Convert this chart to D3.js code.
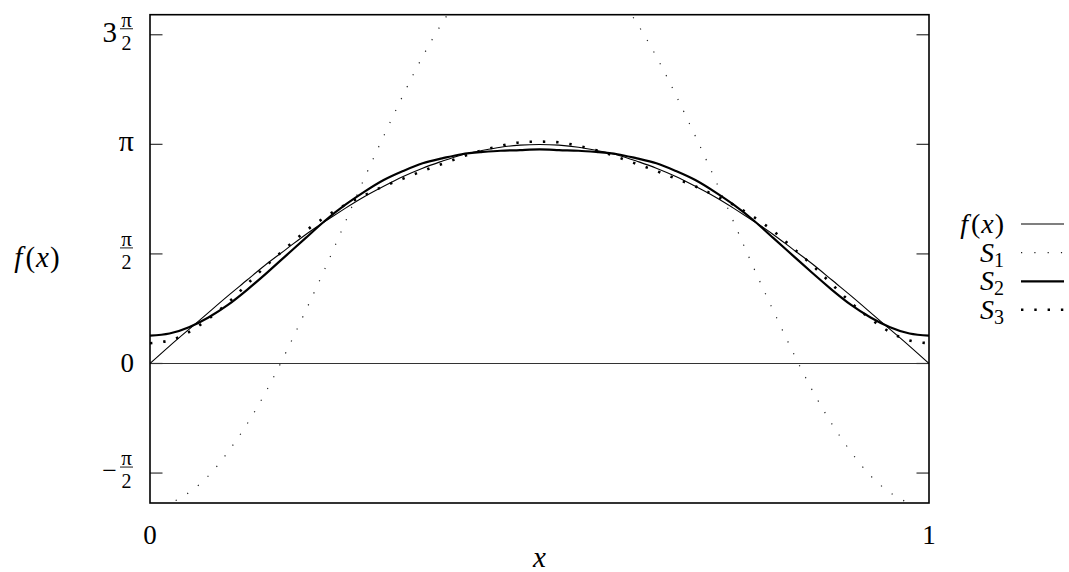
<!DOCTYPE html>
<meta charset="utf-8">
<script src="https://d3js.org/d3.v7.min.js"></script>
<style>
  body { margin: 0; background: #fff; }
</style>
<div id="my_dataviz"></div>
<script>

var xs = [0, 0.025, 0.05, 0.075, 0.1, 0.125, 0.15, 0.175, 0.2, 0.225, 0.25,
          0.275, 0.3, 0.325, 0.35, 0.375, 0.4, 0.425, 0.45, 0.475, 0.5,
          0.525, 0.55, 0.575, 0.6, 0.625, 0.65, 0.675, 0.7, 0.725, 0.75,
          0.775, 0.8, 0.825, 0.85, 0.875, 0.9, 0.925, 0.95, 0.975, 1];

// f(x), thin solid
var fVals = [0, 0.25, 0.49, 0.73, 0.97, 1.20, 1.43, 1.64, 1.85, 2.04, 2.22,
             2.39, 2.54, 2.68, 2.80, 2.90, 2.99, 3.05, 3.10, 3.13, 3.14,
             3.13, 3.10, 3.05, 2.99, 2.90, 2.80, 2.68, 2.54, 2.39, 2.22,
             2.04, 1.85, 1.64, 1.43, 1.20, 0.97, 0.73, 0.49, 0.25, 0];

// S1, sparse fine dots
var s1Vals = [-2.05, -2.00, -1.85, -1.61, -1.27, -0.86, -0.38, 0.17, 0.76, 1.37, 2.01,
              2.65, 3.26, 3.85, 4.40, 4.88, 5.29, 5.63, 5.87, 6.02, 6.07,
              6.02, 5.87, 5.63, 5.29, 4.88, 4.40, 3.85, 3.26, 2.65, 2.01,
              1.37, 0.76, 0.17, -0.38, -0.86, -1.27, -1.61, -1.85, -2.00, -2.05];

// S2, thick solid
var s2Vals = [0.40, 0.43, 0.52, 0.66, 0.84, 1.06, 1.30, 1.55, 1.80, 2.05, 2.27,
              2.46, 2.63, 2.76, 2.87, 2.94, 3.00, 3.03, 3.05, 3.06, 3.07,
              3.06, 3.05, 3.03, 3.00, 2.94, 2.87, 2.76, 2.63, 2.46, 2.27,
              2.05, 1.80, 1.55, 1.30, 1.06, 0.84, 0.66, 0.52, 0.43, 0.40];

// S3, heavy dots
var s3Vals = [0.29, 0.33, 0.45, 0.64, 0.87, 1.14, 1.41, 1.66, 1.90, 2.10, 2.27,
              2.41, 2.54, 2.65, 2.76, 2.86, 2.96, 3.05, 3.12, 3.17, 3.18,
              3.17, 3.12, 3.05, 2.96, 2.86, 2.76, 2.65, 2.54, 2.41, 2.27,
              2.10, 1.90, 1.66, 1.41, 1.14, 0.87, 0.64, 0.45, 0.33, 0.29];

var yTickVals = [-Math.PI / 2, 0, Math.PI / 2, Math.PI, 3 * Math.PI / 2];
var yTickLabels = ["−π/2", "0", "π/2", "π", "3π/2"];
var xTickVals = [0, 1];
var xTickLabels = ["0", "1"];

var seriesNames = ["f(x)", "S1", "S2", "S3"];

var W = 1069, H = 572;
var pLeft = 150, pRight = 929, pTop = 14.7, pBottom = 503;

var svg = d3.select("#my_dataviz")
  .append("svg")
    .attr("width", W)
    .attr("height", H)
    .attr("font-family", "'Liberation Serif', 'Times New Roman', Times, 'DejaVu Serif', serif");

svg.append("rect").attr("width", W).attr("height", H).attr("fill", "#fff");

var x = d3.scaleLinear().domain([0, 1]).range([pLeft, pRight]);
var y = d3.scaleLinear().domain([-2, 5]).range([pBottom, pTop]);

svg.append("clipPath").attr("id", "clip")
  .append("rect")
    .attr("x", pLeft).attr("y", pTop)
    .attr("width", pRight - pLeft).attr("height", pBottom - pTop);

// zero line
svg.append("line")
  .attr("x1", x(0)).attr("x2", x(1))
  .attr("y1", y(0)).attr("y2", y(0))
  .attr("stroke", "#333").attr("stroke-width", 1.2);

// ticks on left and right, inward
var tickLen = 12.5;
yTickVals.forEach(function(v) {
  svg.append("line")
    .attr("x1", pLeft).attr("x2", pLeft + tickLen)
    .attr("y1", y(v)).attr("y2", y(v))
    .attr("stroke", "#333").attr("stroke-width", 1.2);
  svg.append("line")
    .attr("x1", pRight - tickLen).attr("x2", pRight)
    .attr("y1", y(v)).attr("y2", y(v))
    .attr("stroke", "#333").attr("stroke-width", 1.2);
});

// curves
function series(vals) {
  return xs.map(function(d, i) { return [d, vals[i]]; });
}
var line = d3.line()
  .x(function(d) { return x(d[0]); })
  .y(function(d) { return y(d[1]); })
  .curve(d3.curveNatural);

var g = svg.append("g").attr("clip-path", "url(#clip)");

var styles = [
  {vals: fVals,  width: 1.1, dash: null,       color: "#000"},
  {vals: s1Vals, width: 1.2, dash: "1.2 12.1", color: "#222"},
  {vals: s2Vals, width: 2.2, dash: null,       color: "#000"},
  {vals: s3Vals, width: 2.6, dash: "2.4 10.9", color: "#000"}
];

styles.forEach(function(s) {
  g.append("path")
    .datum(series(s.vals))
    .attr("fill", "none")
    .attr("stroke", s.color)
    .attr("stroke-width", s.width)
    .attr("stroke-dasharray", s.dash)
    .attr("d", line);
});

// frame
svg.append("rect")
  .attr("x", pLeft).attr("y", pTop)
  .attr("width", pRight - pLeft).attr("height", pBottom - pTop)
  .attr("fill", "none").attr("stroke", "#000").attr("stroke-width", 1.6);

// y tick labels, fractions stacked
yTickLabels.forEach(function(lab, i) {
  var ty = y(yTickVals[i]);
  var slash = lab.indexOf("/");
  if (slash < 0) {
    svg.append("text")
      .attr("x", 134).attr("y", ty + (lab == "0" ? 9 : 6.5))
      .attr("text-anchor", "end")
      .attr("font-size", lab == "π" ? 30 : 27)
      .text(lab);
    return;
  }
  var pre = lab.slice(0, slash - 1), num = lab.slice(slash - 1, slash), den = lab.slice(slash + 1);
  var cx = 126.5;
  svg.append("text")
    .attr("x", cx).attr("y", ty - 8)
    .attr("text-anchor", "middle").attr("font-size", 21)
    .text(num);
  svg.append("line")
    .attr("x1", cx - 6.5).attr("x2", cx + 6.5)
    .attr("y1", ty - 6).attr("y2", ty - 6)
    .attr("stroke", "#000").attr("stroke-width", 0.9);
  svg.append("text")
    .attr("x", cx).attr("y", ty + 15)
    .attr("text-anchor", "middle").attr("font-size", 20)
    .text(den);
  if (pre) {
    svg.append("text")
      .attr("x", 117).attr("y", ty + (pre == "3" ? 7 : 6))
      .attr("text-anchor", "end").attr("font-size", pre == "3" ? 29 : 26)
      .text(pre);
  }
});

// x tick labels
xTickLabels.forEach(function(lab, i) {
  svg.append("text")
    .attr("x", x(xTickVals[i])).attr("y", 544)
    .attr("text-anchor", "middle").attr("font-size", 27)
    .text(lab);
});

// axis titles
svg.append("text")
  .attr("x", x(0.5)).attr("y", 567)
  .attr("text-anchor", "middle").attr("font-size", 29)
  .attr("font-style", "italic")
  .text("x");

function fx(t) {
  t.append("tspan").attr("font-style", "italic").text("f");
  t.append("tspan").attr("dx", 3).text("(");
  t.append("tspan").attr("font-style", "italic").attr("dx", 1).text("x");
  t.append("tspan").attr("dx", 1).text(")");
}

var yt = svg.append("text")
  .attr("x", 37).attr("y", 267)
  .attr("text-anchor", "middle").attr("font-size", 29);
fx(yt);

// legend
var legY = [224, 252.7, 281.3, 309.8];
seriesNames.forEach(function(name, i) {
  var t = svg.append("text")
    .attr("x", 1004).attr("y", legY[i] + 9)
    .attr("text-anchor", "end").attr("font-size", 28);
  if (name == "f(x)") {
    fx(t);
  } else {
    t.append("tspan").attr("font-style", "italic").text(name[0]);
    t.append("tspan").attr("font-size", 20).attr("dy", 5).text(name.slice(1));
  }
  var s = styles[i];
  svg.append("line")
    .attr("x1", 1021).attr("x2", 1064)
    .attr("y1", legY[i]).attr("y2", legY[i])
    .attr("stroke", s.color)
    .attr("stroke-width", s.width)
    .attr("stroke-dasharray", s.dash);
});

</script>
